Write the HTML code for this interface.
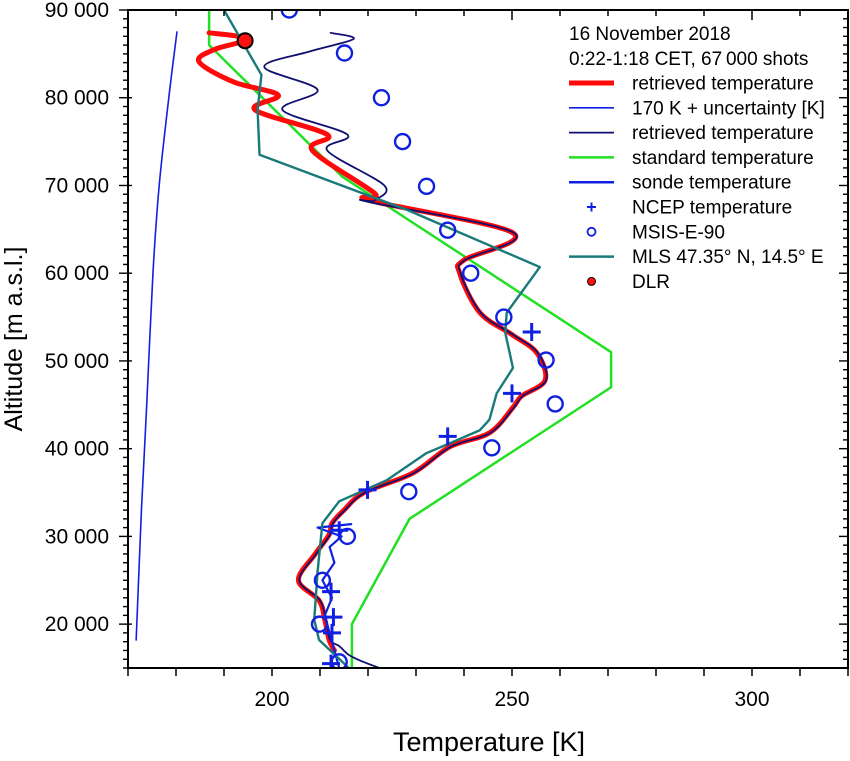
<!DOCTYPE html>
<html><head><meta charset="utf-8"><style>
body{margin:0;background:#fff}
svg text{font-family:"Liberation Sans",Arial,sans-serif}
</style></head><body>
<svg id="chart" width="850" height="756" xmlns="http://www.w3.org/2000/svg">
<g id="plot"></g>
<g id="axes"></g>
<text x="489" y="751" font-size="27" text-anchor="middle">Temperature [K]</text>
<text transform="translate(22,339) rotate(-90)" font-size="25" text-anchor="middle">Altitude [m a.s.l.]</text>
<g id="legend"></g>
</svg>
<script>
const xTicks=[200,250,300];
const yTicks=[20000,30000,40000,50000,60000,70000,80000,90000];
const yTickLabels=["20 000","30 000","40 000","50 000","60 000","70 000","80 000","90 000"];
const uncT=[180.2,178.5,176.5,175.2,173.9,172.8,172.2,171.7];
const uncH=[87500,80000,70000,60000,45000,33000,25000,18200];
const stdT=[186.9,186.9,214.65,270.65,270.65,228.65,216.65,216.65];
const stdH=[90000,86000,71000,51000,47000,32000,20000,15000];
const mlsT=[190,197.8,197,197.4,228.2,255.8,248.9,248.6,250.2,246.8,245.3,243.3,237,232.2,223.9,214,210.5,209.5,208.8,209.8,216];
const mlsH=[90000,82600,78600,73500,67200,60700,55500,53200,49200,46300,43300,42100,40600,39500,36400,34000,31500,26000,20500,18200,15000];
const retT=[186.9,193,194.4,188,184.8,192,201.3,196.5,211.5,208.4,221.4,220.3,250.2,240,239.1,243.3,250,255.2,256.9,252,250.2,245.3,237,229.3,219.2,215,212.5,211.9,209,205.5,209.8,211,211.9,213];
const retH=[87400,87000,86500,85500,84100,81800,80300,78600,75800,74000,69100,68300,64600,61500,60000,55500,53000,50900,47800,46000,44700,41800,40200,37200,35000,33000,31500,30200,28000,25000,22700,20500,18200,17000];
const navT=[212.2,217,208,198.4,209.5,202.2,215.7,211.5,223.4,221.4,220.3,250.4,240.2,239.3,243.5,250.2,255.4,257.1,252.2,250.4,245.5,237.2,229.5,219.4,215.2,212.7,212.1,209.2,205.7,210,211.2,212.1,214,216,219,222.4];
const navH=[87400,86700,85300,83500,80900,78600,75800,74000,70000,68300,68100,64600,61500,60000,55500,53000,50900,47800,46000,44700,41800,40200,37200,35000,33000,31500,30200,28000,25000,22700,20500,18200,17500,16500,15700,15000];
const sondeT=[216.5,209.5,214.5,212,213,210.5,212.5,211,212,213,214];
const sondeH=[31400,31000,30000,28800,27000,25000,23000,21000,19000,17000,15000];
const ncepT=[254.1,250,236.6,219.9,214,212.3,212.8,212.5,212.3];
const ncepH=[53300,46300,41400,35300,30700,23700,20800,19000,15500];
const msisT=[203.6,215.1,222.8,227.2,232.2,236.6,241.4,248.3,257.1,259,245.8,228.5,215.7,210.5,209.9,214];
const msisH=[90000,85100,80000,75000,69900,64900,60000,55000,50100,45100,40100,35100,30000,25000,20000,15700];
const dlrT=[194.4];
const dlrH=[86500];
const legendLabels=["retrieved temperature","170 K + uncertainty [K]","retrieved temperature","standard temperature","sonde temperature","NCEP temperature","MSIS-E-90","MLS 47.35° N, 14.5° E","DLR"];

const NS="http://www.w3.org/2000/svg";
const L=128,R=848,T=10,B=668,xmin=170,xmax=320,ymin=15000,ymax=90000;
const x=v=>L+(v-xmin)/(xmax-xmin)*(R-L);
const y=v=>B-(v-ymin)/(ymax-ymin)*(B-T);
function mk(tag,attrs,parent){const e=document.createElementNS(NS,tag);for(const k in attrs)e.setAttribute(k,attrs[k]);parent.appendChild(e);return e;}
const plot=document.getElementById('plot'),axes=document.getElementById('axes'),leg=document.getElementById('legend');
const clip=mk('clipPath',{id:'cp'},mk('defs',{},plot));mk('rect',{x:L,y:T,width:R-L,height:B-T},clip);
const pg=mk('g',{'clip-path':'url(#cp)'},plot);
function smoothPath(P){let d='M'+P[0][0]+','+P[0][1];for(let i=0;i<P.length-1;i++){const p0=P[i-1]||P[i],p1=P[i],p2=P[i+1],p3=P[i+2]||p2;
d+=' C'+(p1[0]+(p2[0]-p0[0])/6)+','+(p1[1]+(p2[1]-p0[1])/6)+' '+(p2[0]-(p3[0]-p1[0])/6)+','+(p2[1]-(p3[1]-p1[1])/6)+' '+p2[0]+','+p2[1];}return d;}
function line(Ts,Hs,color,w,name,smooth){const P=Ts.map((t,i)=>[x(t),y(Hs[i])]);
const d=smooth?smoothPath(P):'M'+P.map(p=>p.join(',')).join(' L');
const p=mk('path',{d:d,fill:'none',stroke:color,'stroke-width':w,'stroke-linejoin':'round','stroke-linecap':'round'},pg);

}
line(uncT,uncH,'#1020e0',1.6,'uncertainty-line',true);
line(stdT,stdH,'#22e022',2.5,'standard-temperature-line',false);
line(retT,retH,'#ff0a0a',5,'retrieved-temperature-red-line',true);
line(navT,navH,'#101070',1.8,'retrieved-temperature-navy-line',true);
line(sondeT,sondeH,'#1020e0',2.2,'sonde-temperature-line',false);
line(mlsT,mlsH,'#1a7a7a',2.4,'mls-line',false);
ncepT.forEach((t,i)=>{const g=mk('g',{stroke:'#1020e0','stroke-width':3},pg);


const cx=x(t),cy=y(ncepH[i]);mk('line',{x1:cx-9,y1:cy,x2:cx+9,y2:cy},g);mk('line',{x1:cx,y1:cy-9,x2:cx,y2:cy+9},g);});
msisT.forEach((t,i)=>{const c=mk('circle',{cx:x(t),cy:y(msisH[i]),r:7.5,fill:'none',stroke:'#1020e0','stroke-width':2.4},pg);

});
dlrT.forEach((t,i)=>{const c=mk('circle',{cx:x(t),cy:y(dlrH[i]),r:7.5,fill:'#ff1010',stroke:'#000','stroke-width':2},pg);

});
mk('rect',{x:L,y:T,width:R-L,height:B-T,fill:'none',stroke:'#000','stroke-width':2},axes);
for(let v=xmin;v<=xmax;v+=10){const X=x(v);mk('line',{x1:X,y1:B,x2:X,y2:B+8,stroke:'#000','stroke-width':1.5},axes);mk('line',{x1:X,y1:T,x2:X,y2:T+(v%50==0?10:6),stroke:'#000','stroke-width':1.5},axes);}
xTicks.forEach(v=>{const t=mk('text',{x:x(v),y:B+38,'font-size':21,'text-anchor':'middle'},axes);t.textContent=v;

});
for(let v=ymin;v<=ymax;v+=1000){const Y=y(v),maj=v%10000==0;mk('line',{x1:L-(maj?9:5),y1:Y,x2:L+(maj?4:0),y2:Y,stroke:'#000','stroke-width':1.4},axes);mk('line',{x1:R-(maj?9:5),y1:Y,x2:R,y2:Y,stroke:'#000','stroke-width':1.4},axes);}
yTicks.forEach((v,i)=>{const t=mk('text',{x:L-19,y:y(v)+7,'font-size':21,'text-anchor':'end'},axes);t.textContent=yTickLabels[i];

});
const t1=mk('text',{x:569,y:40,'font-size':19},leg);t1.textContent="16 November 2018";


const t2=mk('text',{x:569,y:65,'font-size':19},leg);t2.textContent="0:22-1:18 CET, 67\u2009000 shots";


const sw=[['line','#ff0a0a',5],['line','#1020e0',1.6],['line','#101070',1.8],['line','#22e022',2.5],['line','#1020e0',2.5],['plus','#1020e0'],['circ','#1020e0'],['line','#1a7a7a',2.5],['dot','#ff1010']];
legendLabels.forEach((lab,i)=>{const cy=83+i*24.8;const g=mk('g',{},leg);


const s=sw[i];
if(s[0]=='line')mk('line',{x1:569,y1:cy,x2:614,y2:cy,stroke:s[1],'stroke-width':s[2]},g);
else if(s[0]=='plus'){mk('line',{x1:587,y1:cy,x2:596,y2:cy,stroke:s[1],'stroke-width':2},g);mk('line',{x1:591.5,y1:cy-4.5,x2:591.5,y2:cy+4.5,stroke:s[1],'stroke-width':2},g);}
else if(s[0]=='circ')mk('circle',{cx:591.5,cy:cy,r:4,fill:'none',stroke:s[1],'stroke-width':1.8},g);
else mk('circle',{cx:591.5,cy:cy,r:4,fill:s[1],stroke:'#000','stroke-width':1},g);
const t=mk('text',{x:632,y:cy+6.5,'font-size':19},g);t.textContent=lab;});
</script>
</body></html>
